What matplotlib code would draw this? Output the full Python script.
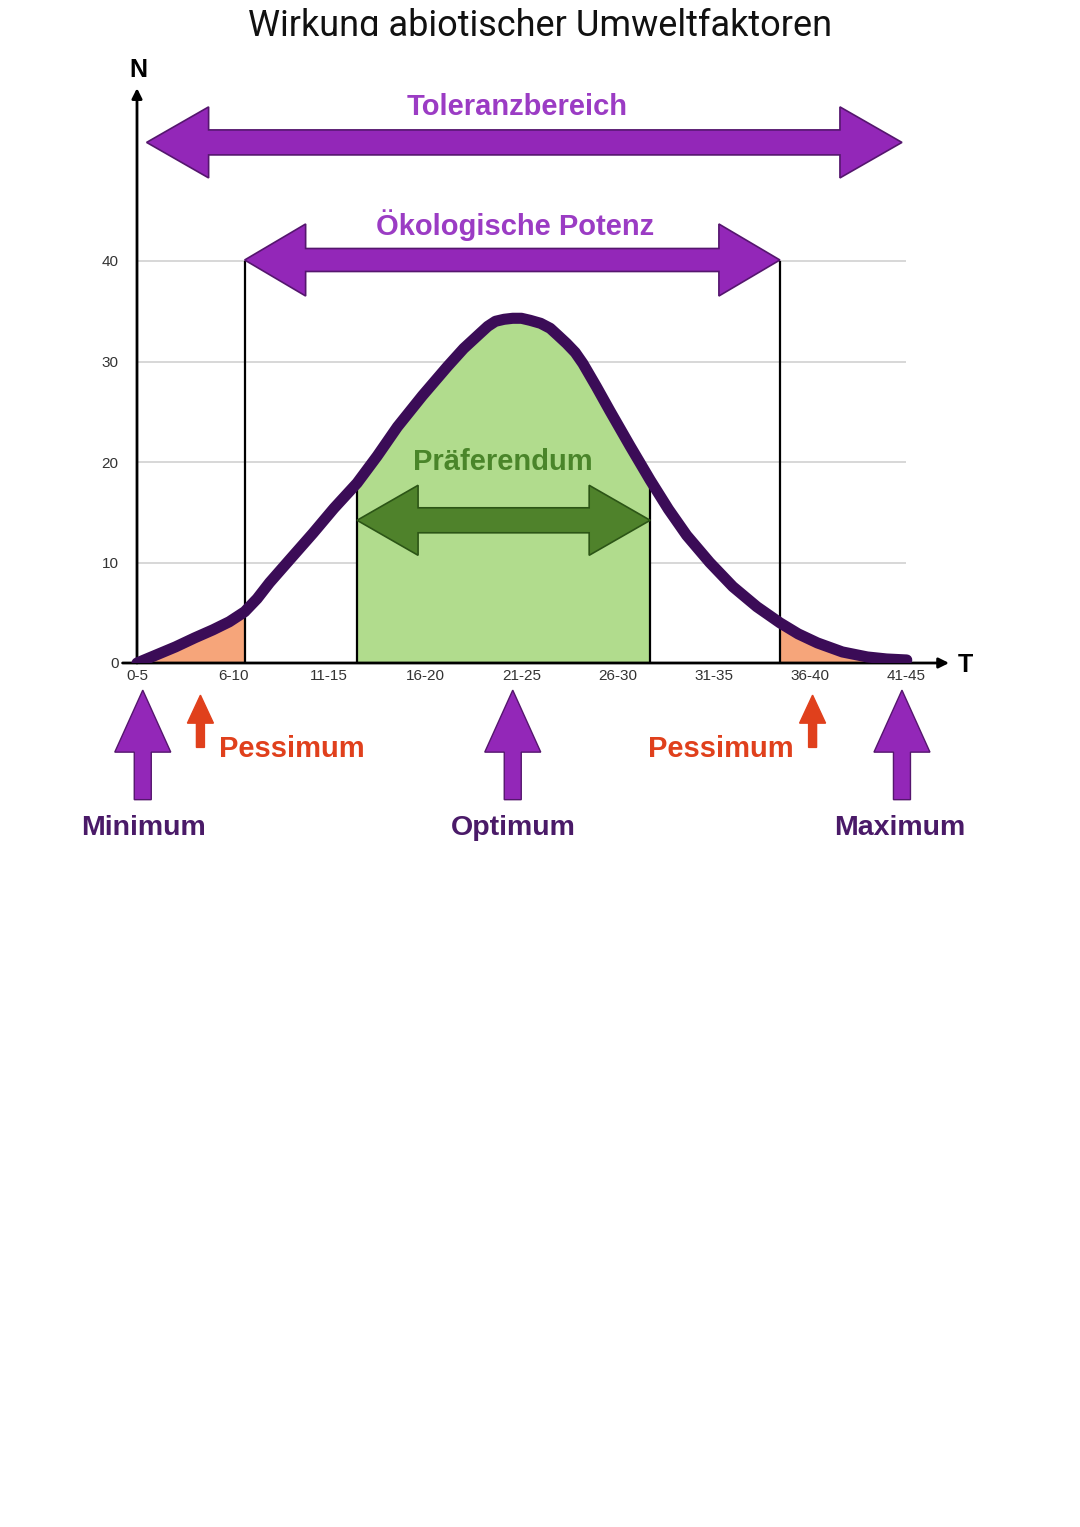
import matplotlib
matplotlib.use('Agg')
import matplotlib.pyplot as plt
from matplotlib.patches import Polygon, Rectangle
import numpy as np

categories = ['0-5', '6-10', '11-15', '16-20', '21-25', '26-30', '31-35', '36-40', '41-45']
y_ticks = [0, 10, 20, 30, 40]

# Kurve
curve_x = [0.0, 0.2, 0.4, 0.6, 0.79, 0.96, 1.12, 1.25, 1.38, 1.6, 1.83, 2.05, 2.29, 2.5, 2.71,
           2.97, 3.23, 3.4, 3.57, 3.65, 3.73, 3.82, 3.91, 4.0, 4.09, 4.2, 4.30, 4.38, 4.47,
           4.56, 4.64, 4.78, 4.92, 5.13, 5.34, 5.53, 5.72, 5.96, 6.20, 6.45, 6.69, 6.88, 7.08,
           7.34, 7.60, 7.8, 8.01]
curve_n = [0.0, 0.8, 1.6, 2.5, 3.3, 4.1, 5.1, 6.4, 8.0, 10.4, 12.9, 15.4, 17.9, 20.6, 23.5,
           26.6, 29.5, 31.3, 32.8, 33.5, 34.0, 34.2, 34.3, 34.3, 34.1, 33.8, 33.3, 32.6, 31.8,
           30.9, 29.8, 27.5, 25.1, 21.6, 18.2, 15.3, 12.7, 10.0, 7.6, 5.6, 4.0, 2.9, 2.0,
           1.1, 0.6, 0.4, 0.3]

toleranz = (0.10, 7.96)
potenz = (1.12, 6.69)
praeferendum = (2.29, 5.34)
optimum = 3.91
pessimum = (0.66, 7.03)

PURPLE = '#9327b8'
PURPLE_EDGE = '#55166e'
PURPLE_TXT = '#9b3cc4'
DARK_TXT = '#4a1a68'
GREEN = '#4f822b'
GREEN_EDGE = '#2c5516'
GREEN_FILL = '#b1dc8d'
ORANGE = '#f6a57a'
RED = '#e0401c'
CURVE = '#3b0c57'

W, H = 1080, 1527
XPX, YPX = 96.1, 10.05   # pixel pro Dateneinheit

fig = plt.figure(figsize=(W / 100, H / 100), dpi=100)
x0, x1 = -0.15, 8.4
y0, y1 = 0, 57.3
left = 137 + XPX * x0
right = 137 + XPX * x1
top = 663 - YPX * y1
ax = fig.add_axes([left / W, (H - 663) / H, (right - left) / W, (663 - top) / H])
ax.set_xlim(x0, x1)
ax.set_ylim(y0, y1)
for s in ax.spines.values():
    s.set_visible(False)

ax.set_xticks(range(len(categories)))
ax.set_xticklabels(categories, fontsize=11, color='#333333', family='Liberation Sans')
ax.set_yticks(y_ticks)
ax.set_yticklabels([str(v) for v in y_ticks], fontsize=11, color='#333333', family='Liberation Sans')
ax.tick_params(length=0, pad=4)
ax.tick_params(axis='y', pad=3)

# Gitterlinien
ax.hlines(y_ticks[1:], 0, 8.0, color='#d4d4d4', lw=1.3, zorder=0)

# Achsen mit Pfeilen
ax.annotate('', xy=(0, 57.2), xytext=(0, 0), annotation_clip=False,
            arrowprops=dict(arrowstyle='-|>', lw=2, color='black', mutation_scale=15, shrinkA=0, shrinkB=0))
ax.annotate('', xy=(8.45, 0), xytext=(x0, 0), annotation_clip=False,
            arrowprops=dict(arrowstyle='-|>', lw=2, color='black', mutation_scale=15, shrinkA=0, shrinkB=0))
ax.text(0.01, 59.0, 'N', ha='center', va='center', fontsize=18, fontweight='bold',
        family='Liberation Sans', clip_on=False)
ax.text(8.62, -0.2, 'T', ha='center', va='center', fontsize=18, fontweight='bold',
        family='Liberation Sans', clip_on=False)

cx = np.array(curve_x)
cn = np.array(curve_n)

# Flächen
ax.fill_between(cx, 0, cn, where=cx <= potenz[0] + 1e-9, color=ORANGE, lw=0, zorder=2)
ax.fill_between(cx, 0, cn, where=cx >= potenz[1] - 1e-9, color=ORANGE, lw=0, zorder=2)
ax.fill_between(cx, 0, cn, where=(cx >= praeferendum[0] - 1e-9) & (cx <= praeferendum[1] + 1e-9),
                color=GREEN_FILL, lw=0, zorder=2)
for b in praeferendum:
    ax.vlines(b, 0, np.interp(b, cx, cn), color='black', lw=1.6, zorder=3)
for b in potenz:
    ax.vlines(b, 0, 40, color='black', lw=1.6, zorder=3)

ax.plot(cx, cn, color=CURVE, lw=8, solid_capstyle='round', solid_joinstyle='round', zorder=4)


def double_arrow(xa, xb, y, shaft, head, headlen, fc, ec):
    hs = shaft / 2 / YPX
    hh = head / 2 / YPX
    hl = headlen / XPX
    pts = [(xa, y), (xa + hl, y + hh), (xa + hl, y + hs), (xb - hl, y + hs), (xb - hl, y + hh),
           (xb, y), (xb - hl, y - hh), (xb - hl, y - hs), (xa + hl, y - hs), (xa + hl, y - hh)]
    ax.add_patch(Polygon(pts, closed=True, fc=fc, ec=ec, lw=1.2, zorder=5, clip_on=False))


def up_arrow(x, ytip, ytail, shaft, head, headlen, fc, ec):
    hs = shaft / 2 / XPX
    hh = head / 2 / XPX
    hl = headlen / YPX
    pts = [(x, ytip), (x + hh, ytip - hl), (x + hs, ytip - hl), (x + hs, ytail),
           (x - hs, ytail), (x - hs, ytip - hl), (x - hh, ytip - hl)]
    ax.add_patch(Polygon(pts, closed=True, fc=fc, ec=ec, lw=1.0, zorder=5, clip_on=False))


double_arrow(toleranz[0], toleranz[1], 51.8, 25, 71, 62, PURPLE, PURPLE_EDGE)
double_arrow(potenz[0], potenz[1], 40.1, 23, 72, 61, PURPLE, PURPLE_EDGE)
double_arrow(praeferendum[0], praeferendum[1], 14.2, 25, 70, 61, GREEN, GREEN_EDGE)

bold = dict(fontweight='bold', family='Liberation Sans', ha='center', va='center', clip_on=False)
ax.text(3.96, 55.3, 'Toleranzbereich', fontsize=21, color=PURPLE_TXT, **bold)
ax.text(3.93, 43.6, 'Ökologische Potenz', fontsize=21, color=PURPLE_TXT, **bold)
ax.text(3.81, 20.0, 'Präferendum', fontsize=21, color='#4a852a', **bold)

# Untere Pfeile
for xm in (0.06, optimum, 7.96):
    up_arrow(xm, -2.7, -13.6, 17, 56, 62, PURPLE, PURPLE_EDGE)
for xp in pessimum:
    up_arrow(xp, -3.2, -8.4, 8, 26, 28, RED, RED)

ax.text(1.61, -8.6, 'Pessimum', fontsize=21, color=RED, **bold)
ax.text(6.08, -8.6, 'Pessimum', fontsize=21, color=RED, **bold)
ax.text(0.07, -16.4, 'Minimum', fontsize=20.5, color=DARK_TXT, **bold)
ax.text(3.92, -16.4, 'Optimum', fontsize=20.5, color=DARK_TXT, **bold)
ax.text(7.94, -16.4, 'Maximum', fontsize=20.5, color=DARK_TXT, **bold)

# Titel (unten abgeschnitten wie im Original)
t = fig.text(0.5, 1 - 36 / H, 'Wirkung abiotischer Umweltfaktoren', ha='center', va='baseline',
             fontsize=26, family='Roboto', color='#111111')
clip = Rectangle((0, 1 - 36 / H), 1, 36 / H, transform=fig.transFigure, visible=False)
fig.add_artist(clip)
t.set_clip_path(clip)

fig.savefig('out.png', dpi=100)
